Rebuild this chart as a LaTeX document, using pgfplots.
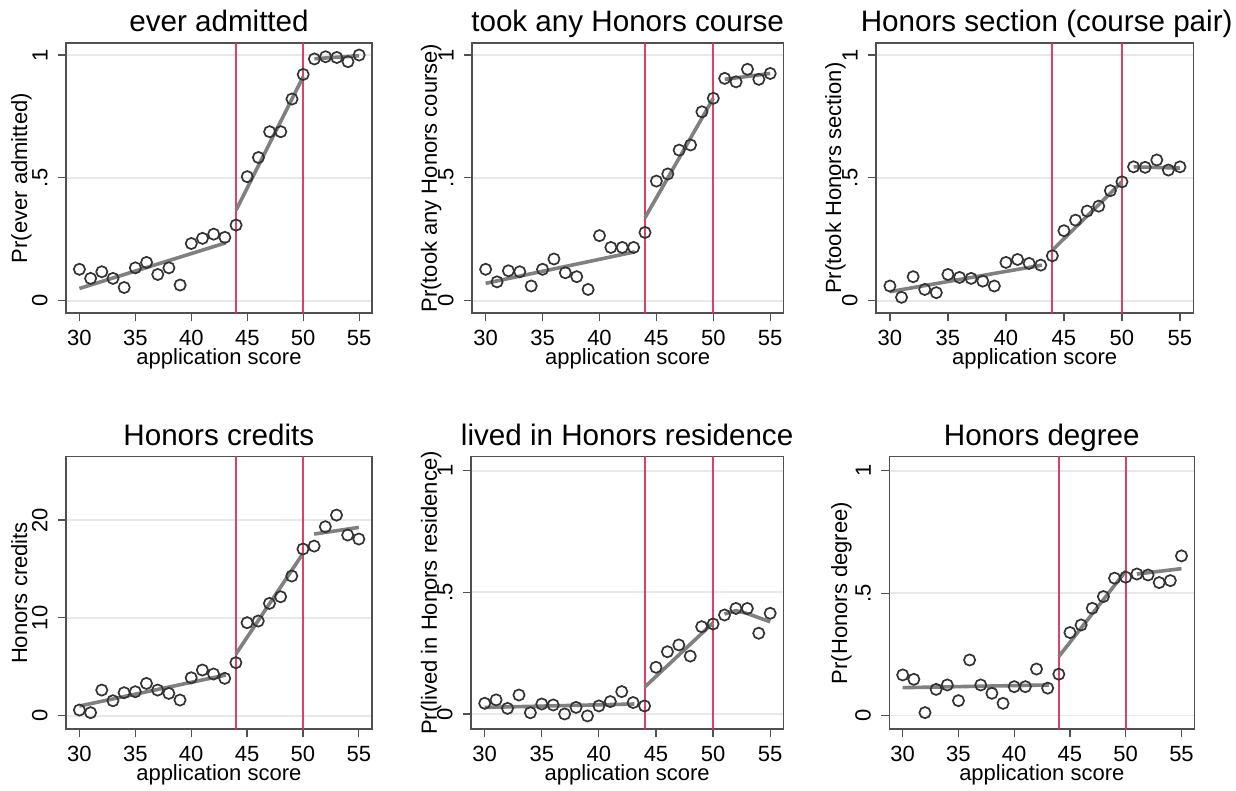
\documentclass[border=0pt]{standalone}
\usepackage{pgfplots}
\pgfplotsset{compat=1.18}
\usepackage{fontspec}
\setmainfont{Liberation Sans}
\definecolor{cut}{RGB}{215,45,85}
\definecolor{fitg}{RGB}{128,128,128}
\definecolor{framec}{RGB}{80,80,80}
\definecolor{gridc}{RGB}{232,232,232}
\pgfplotsset{
  panel/.style={
    scale only axis,
    anchor=south west,
    xmin=28.8, xmax=56.15,
    xtick={30,35,...,55},
    tick align=outside,
    tick pos=left,
    major tick length=4pt,
    tick style={framec, line width=0.6pt},
    axis line style={framec, line width=0.8pt},
    ymajorgrids,
    grid style={gridc, line width=0.9pt},
    /pgf/number format/assume math mode=true,
    title style={font=\fontsize{14.8}{17}\selectfont, at={(0.5,1)}, anchor=base, yshift=-0.5pt},
    xlabel={application score},
    xlabel style={font=\fontsize{11}{13}\selectfont, at={(axis description cs:0.5,0)}, anchor=base, yshift=-25.85pt},
    ylabel style={font=\fontsize{11}{13}\selectfont, anchor=base},
    ticklabel style={font=\fontsize{11}{13}\selectfont},
    xticklabel style={anchor=north, inner sep=0pt, yshift=-4.3pt},
    yticklabel style={rotate=90, anchor=south, inner sep=5pt},
  },
  pr/.style={ymin=-0.051, ymax=1.049, ytick={0,0.5,1}, yticklabels={0,.5,1}},
  dots/.style={only marks, mark=o, mark size=2.8pt, mark options={draw=black!80, line width=0.85pt}},
  fit/.style={fitg, line width=1.8pt, no marks},
  cutl/.style={cut, line width=1pt, opacity=0.9, no marks},
}
\begin{document}
\begin{tikzpicture}
\useasboundingbox (0,0) rectangle (618pt,395.5pt);

% Panel 1
\begin{axis}[panel, pr, at={(33pt,238.85pt)}, width=153pt, height=135.15pt,
  title={ever admitted}, ylabel={Pr(ever admitted)},
  ylabel style={at={(axis description cs:-0.127,0.5)}}]
\addplot[cutl] coordinates {(44,-0.1) (44,1.1)};
\addplot[cutl] coordinates {(50,-0.1) (50,1.1)};
\addplot[dots] coordinates {
(30,0.128)(31,0.091)(32,0.118)(33,0.091)(34,0.054)(35,0.134)(36,0.156)(37,0.107)(38,0.134)(39,0.064)
(40,0.233)(41,0.254)(42,0.271)(43,0.258)(44,0.308)(45,0.505)(46,0.583)(47,0.688)(48,0.688)(49,0.821)
(50,0.921)(51,0.984)(52,0.993)(53,0.990)(54,0.973)(55,1.0)};
\addplot[fit] coordinates {(30,0.05)(43.1,0.236)};
\addplot[fit] coordinates {(44,0.369)(50,0.912)};
\addplot[fit] coordinates {(51,0.985)(55,0.997)};
\end{axis}

% Panel 2
\begin{axis}[panel, pr, at={(236pt,238.85pt)}, width=155.65pt, height=135.15pt,
  title={took any Honors course}, ylabel={Pr(took any Honors course)},
  ylabel style={at={(axis description cs:-0.113,0.5)}}]
\addplot[cutl] coordinates {(44,-0.1) (44,1.1)};
\addplot[cutl] coordinates {(50,-0.1) (50,1.1)};
\addplot[dots] coordinates {
(30,0.128)(31,0.077)(32,0.122)(33,0.118)(34,0.060)(35,0.128)(36,0.170)(37,0.114)(38,0.098)(39,0.046)
(40,0.265)(41,0.217)(42,0.217)(43,0.217)(44,0.278)(45,0.487)(46,0.516)(47,0.613)(48,0.634)(49,0.769)
(50,0.824)(51,0.905)(52,0.891)(53,0.942)(54,0.901)(55,0.925)};
\addplot[fit] coordinates {(30,0.071)(43.1,0.199)};
\addplot[fit] coordinates {(44,0.338)(50,0.824)};
\addplot[fit] coordinates {(51,0.901)(55,0.925)};
\end{axis}

% Panel 3
\begin{axis}[panel, pr, at={(438pt,238.85pt)}, width=158.65pt, height=135.15pt,
  title={Honors section (course pair)}, title style={xshift=6pt},
  ylabel={Pr(took Honors section)},
  ylabel style={at={(axis description cs:-0.110,0.5)}}]
\addplot[cutl] coordinates {(44,-0.1) (44,1.1)};
\addplot[cutl] coordinates {(50,-0.1) (50,1.1)};
\addplot[dots] coordinates {
(30,0.060)(31,0.014)(32,0.098)(33,0.046)(34,0.033)(35,0.107)(36,0.095)(37,0.091)(38,0.080)(39,0.060)
(40,0.156)(41,0.168)(42,0.152)(43,0.145)(44,0.183)(45,0.285)(46,0.328)(47,0.365)(48,0.385)(49,0.448)
(50,0.484)(51,0.545)(52,0.543)(53,0.573)(54,0.532)(55,0.545)};
\addplot[fit] coordinates {(30,0.037)(43.1,0.145)};
\addplot[fit] coordinates {(44,0.206)(50,0.484)};
\addplot[fit] coordinates {(51,0.545)(55,0.540)};
\end{axis}

% Panel 4
\begin{axis}[panel, at={(33pt,30.85pt)}, width=152.85pt, height=136.3pt,
  ymin=-1.39, ymax=26.48, ytick={0,10,20},
  title={Honors credits}, ylabel={Honors credits},
  ylabel style={at={(axis description cs:-0.127,0.5)}}]
\addplot[cutl] coordinates {(44,-3) (44,30)};
\addplot[cutl] coordinates {(50,-3) (50,30)};
\addplot[dots] coordinates {
(30,0.58)(31,0.31)(32,2.62)(33,1.53)(34,2.35)(35,2.45)(36,3.30)(37,2.62)(38,2.28)(39,1.60)
(40,3.88)(41,4.67)(42,4.26)(43,3.82)(44,5.42)(45,9.51)(46,9.68)(47,11.48)(48,12.16)(49,14.28)
(50,17.04)(51,17.34)(52,19.32)(53,20.51)(54,18.47)(55,18.06)};
\addplot[fit] coordinates {(30,0.99)(43.1,4.16)};
\addplot[fit] coordinates {(44,6.30)(50,16.59)};
\addplot[fit] coordinates {(51,18.57)(55,19.25)};
\end{axis}

% Panel 5
\begin{axis}[panel, at={(235.5pt,30.85pt)}, width=156.15pt, height=136.3pt,
  ymin=-0.063, ymax=1.058, ytick={0,0.5,1}, yticklabels={0,.5,1},
  title={lived in Honors residence}, ylabel={Pr(lived in Honors residence)},
  ylabel style={at={(axis description cs:-0.109,0.5)}}]
\addplot[cutl] coordinates {(44,-0.1) (44,1.1)};
\addplot[cutl] coordinates {(50,-0.1) (50,1.1)};
\addplot[dots] coordinates {
(30,0.044)(31,0.058)(32,0.023)(33,0.078)(34,0.005)(35,0.041)(36,0.037)(37,0.0)(38,0.027)(39,-0.008)
(40,0.033)(41,0.051)(42,0.092)(43,0.047)(44,0.033)(45,0.192)(46,0.256)(47,0.284)(48,0.238)(49,0.359)
(50,0.370)(51,0.407)(52,0.434)(53,0.434)(54,0.332)(55,0.414)};
\addplot[fit] coordinates {(30,0.027)(43.1,0.041)};
\addplot[fit] coordinates {(44,0.110)(50,0.375)};
\addplot[fit] coordinates {(51,0.411)(52,0.425)(53,0.413)(54,0.396)(55,0.379)};
\end{axis}

% Panel 6
\begin{axis}[panel, at={(444.65pt,30.85pt)}, width=152.5pt, height=136.3pt,
  ymin=-0.056, ymax=1.057, ytick={0,0.5,1}, yticklabels={0,.5,1},
  title={Honors degree}, ylabel={Pr(Honors degree)},
  ylabel style={at={(axis description cs:-0.138,0.5)}}]
\addplot[cutl] coordinates {(44,-0.1) (44,1.1)};
\addplot[cutl] coordinates {(50,-0.1) (50,1.1)};
\addplot[dots] coordinates {
(30,0.166)(31,0.148)(32,0.012)(33,0.107)(34,0.125)(35,0.061)(36,0.227)(37,0.125)(38,0.091)(39,0.050)
(40,0.118)(41,0.118)(42,0.190)(43,0.112)(44,0.169)(45,0.339)(46,0.370)(47,0.438)(48,0.486)(49,0.561)
(50,0.565)(51,0.578)(52,0.574)(53,0.543)(54,0.551)(55,0.652)};
\addplot[fit] coordinates {(30,0.114)(43.1,0.125)};
\addplot[fit] coordinates {(44,0.241)(50,0.590)};
\addplot[fit] coordinates {(51,0.578)(55,0.600)};
\end{axis}
\end{tikzpicture}
\end{document}
